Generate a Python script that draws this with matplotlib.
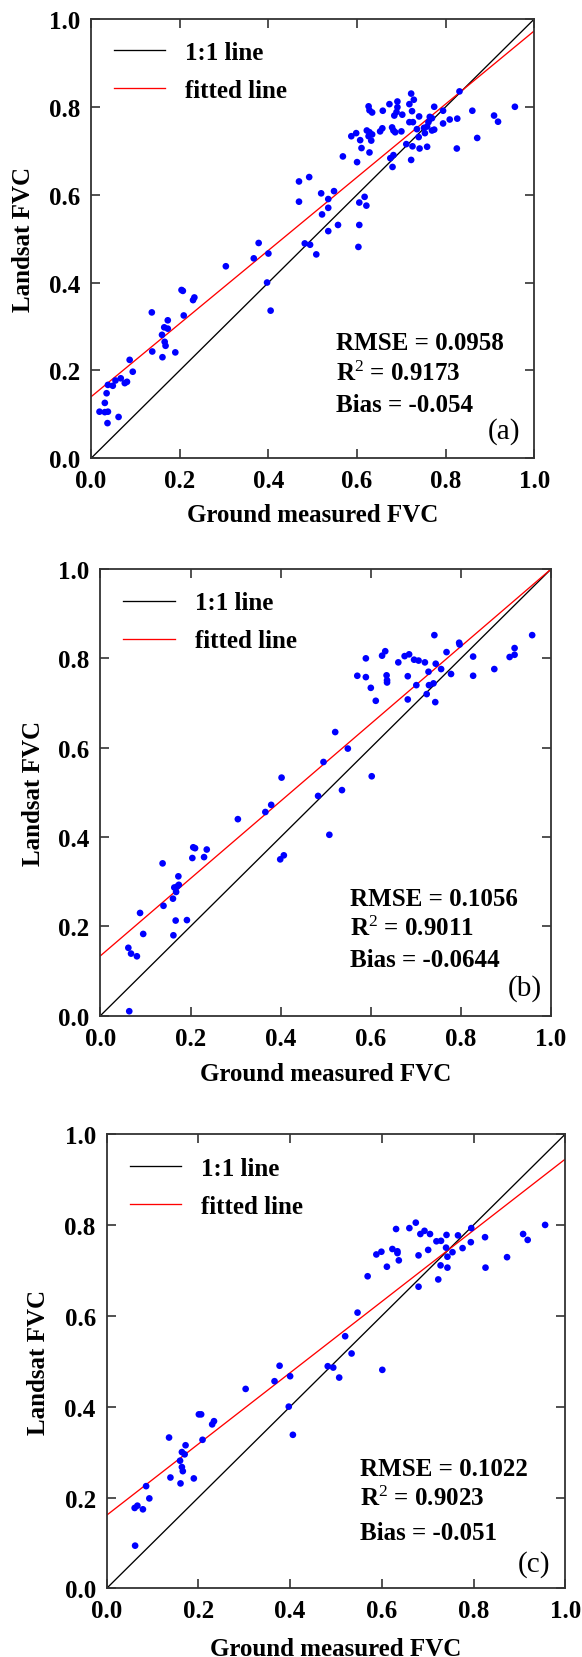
import matplotlib
matplotlib.use("Agg")
from matplotlib import pyplot as plt

plt.rcParams['font.family'] = ['Liberation Serif', 'DejaVu Serif']
plt.rcParams['mathtext.fontset'] = 'custom'
plt.rcParams['mathtext.rm'] = 'Liberation Serif'
plt.rcParams['mathtext.it'] = 'Liberation Serif:italic'
plt.rcParams['mathtext.bf'] = 'Liberation Serif:bold'

# panel (a)
xa = [0.469, 0.469, 0.492, 0.482, 0.494, 0.508, 0.519, 0.548, 0.535, 0.535,
      0.521, 0.535, 0.557, 0.568, 0.587, 0.598, 0.600, 0.607, 0.610, 0.626,
      0.628, 0.634, 0.622, 0.628, 0.628, 0.634, 0.626, 0.632, 0.605, 0.617,
      0.621, 0.605, 0.603, 0.652, 0.657, 0.658, 0.673, 0.679, 0.682, 0.686,
      0.684, 0.691, 0.691, 0.689, 0.702, 0.700, 0.675, 0.682, 0.680, 0.711,
      0.718, 0.722, 0.728, 0.724, 0.718, 0.726, 0.740, 0.735, 0.739, 0.725,
      0.741, 0.722, 0.753, 0.758, 0.761, 0.764, 0.769, 0.751, 0.774, 0.769,
      0.758, 0.774, 0.794, 0.794, 0.809, 0.826, 0.825, 0.831, 0.860, 0.871,
      0.909, 0.918, 0.956,
      0.204, 0.207, 0.230, 0.233, 0.304, 0.367, 0.378, 0.400, 0.397, 0.405,
      0.209, 0.137, 0.173, 0.165, 0.173, 0.160, 0.166, 0.168, 0.138, 0.161,
      0.190, 0.087, 0.094, 0.076, 0.081, 0.067, 0.055, 0.049, 0.038, 0.035,
      0.031, 0.019, 0.031, 0.038, 0.062, 0.037]
ya = [0.630, 0.584, 0.640, 0.489, 0.486, 0.464, 0.603, 0.608, 0.590, 0.570,
      0.555, 0.517, 0.531, 0.687, 0.733, 0.740, 0.674, 0.724, 0.706, 0.801,
      0.792, 0.787, 0.746, 0.696, 0.742, 0.737, 0.733, 0.723, 0.582, 0.595,
      0.575, 0.531, 0.481, 0.744, 0.751, 0.791, 0.806, 0.753, 0.746, 0.742,
      0.780, 0.812, 0.799, 0.788, 0.782, 0.744, 0.683, 0.690, 0.663, 0.715,
      0.806, 0.830, 0.816, 0.790, 0.765, 0.765, 0.778, 0.749, 0.731, 0.710,
      0.705, 0.679, 0.740, 0.709, 0.765, 0.777, 0.774, 0.752, 0.748, 0.746,
      0.755, 0.800, 0.791, 0.762, 0.771, 0.773, 0.705, 0.835, 0.791, 0.729,
      0.780, 0.766, 0.800,
      0.383, 0.381, 0.360, 0.366, 0.437, 0.455, 0.490, 0.466, 0.400, 0.336,
      0.325, 0.332, 0.314, 0.298, 0.295, 0.281, 0.265, 0.256, 0.243, 0.230,
      0.241, 0.224, 0.197, 0.171, 0.174, 0.182, 0.177, 0.165, 0.167, 0.148,
      0.126, 0.106, 0.105, 0.106, 0.094, 0.080]

# panel (b)
xb = [0.741, 0.958, 0.632, 0.625, 0.589, 0.675, 0.685, 0.696, 0.706, 0.720,
      0.661, 0.744, 0.768, 0.796, 0.797, 0.827, 0.756, 0.778, 0.827, 0.874,
      0.908, 0.919, 0.919, 0.570, 0.589, 0.635, 0.636, 0.636, 0.682, 0.600,
      0.701, 0.728, 0.729, 0.739, 0.724, 0.611, 0.682, 0.743, 0.521, 0.549,
      0.495, 0.402, 0.602, 0.483, 0.536,
      0.379, 0.366, 0.305, 0.508, 0.399, 0.407, 0.206, 0.210, 0.204, 0.230,
      0.236, 0.138, 0.173, 0.164, 0.170, 0.174, 0.168, 0.161, 0.140, 0.167,
      0.192, 0.162, 0.088, 0.095, 0.062, 0.068, 0.081, 0.064]
yb = [0.852, 0.852, 0.816, 0.806, 0.800, 0.805, 0.809, 0.797, 0.795, 0.791,
      0.791, 0.788, 0.814, 0.835, 0.831, 0.804, 0.776, 0.765, 0.761, 0.776,
      0.803, 0.823, 0.808, 0.761, 0.758, 0.762, 0.751, 0.746, 0.760, 0.734,
      0.740, 0.770, 0.740, 0.744, 0.720, 0.705, 0.708, 0.702, 0.635, 0.598,
      0.568, 0.533, 0.536, 0.492, 0.505,
      0.472, 0.456, 0.440, 0.405, 0.350, 0.359, 0.377, 0.375, 0.353, 0.355,
      0.372, 0.341, 0.312, 0.287, 0.289, 0.293, 0.277, 0.262, 0.246, 0.213,
      0.214, 0.180, 0.230, 0.183, 0.152, 0.139, 0.133, 0.010]

# panel (c)
xc = [0.674, 0.660, 0.631, 0.684, 0.693, 0.705, 0.741, 0.766, 0.795, 0.825,
      0.908, 0.918, 0.956, 0.719, 0.729, 0.740, 0.776, 0.794, 0.754, 0.743,
      0.873, 0.701, 0.680, 0.623, 0.634, 0.634, 0.637, 0.588, 0.599, 0.611,
      0.728, 0.743, 0.826, 0.723, 0.680, 0.569, 0.547, 0.520, 0.534, 0.482,
      0.494, 0.377, 0.400, 0.601, 0.507,
      0.366, 0.303, 0.397, 0.406, 0.201, 0.206, 0.230, 0.234, 0.209, 0.136,
      0.172, 0.164, 0.170, 0.160, 0.164, 0.166, 0.139, 0.161, 0.190, 0.086,
      0.093, 0.061, 0.067, 0.079, 0.062]
yc = [0.805, 0.793, 0.791, 0.780, 0.787, 0.780, 0.778, 0.777, 0.793, 0.773,
      0.780, 0.767, 0.800, 0.764, 0.765, 0.750, 0.749, 0.762, 0.740, 0.730,
      0.729, 0.745, 0.733, 0.747, 0.742, 0.738, 0.722, 0.735, 0.741, 0.708,
      0.711, 0.706, 0.706, 0.680, 0.664, 0.687, 0.607, 0.555, 0.517, 0.489,
      0.486, 0.490, 0.467, 0.481, 0.464,
      0.456, 0.439, 0.400, 0.338, 0.383, 0.383, 0.361, 0.368, 0.327, 0.332,
      0.315, 0.300, 0.295, 0.281, 0.267, 0.258, 0.244, 0.231, 0.242, 0.225,
      0.198, 0.177, 0.182, 0.174, 0.094]

# fitted lines (intercept, slope)
fit_a = (0.140, 0.833)
fit_b = (0.134, 0.866)
fit_c = (0.161, 0.784)

stats_a = ['RMSE = 0.0958', 'R$^{\\mathrm{2}}$ = 0.9173', 'Bias = -0.054']
stats_b = ['RMSE = 0.1056', 'R$^{\\mathrm{2}}$ = 0.9011', 'Bias = -0.0644']
stats_c = ['RMSE = 0.1022', 'R$^{\\mathrm{2}}$ = 0.9023', 'Bias = -0.051']

ticks = [0.0, 0.2, 0.4, 0.6, 0.8, 1.0]
tick_labels = ['0.0', '0.2', '0.4', '0.6', '0.8', '1.0']

FS = 18


def draw_panel(ax, x, y, fit, stats, tag, stats_y, tag_pos, ylab_x, xlab_y):
    line = [0.0, 1.0]
    ax.plot(line, line, color='black', lw=0.95, label='1:1 line', zorder=2)
    ax.plot(line, [fit[0] + fit[1] * v for v in line], color='red', lw=0.95,
            label='fitted line', zorder=2)
    ax.scatter(x, y, s=23, color='#0000ff', edgecolors='none', zorder=3)

    ax.set_xlim(0, 1)
    ax.set_ylim(0, 1)
    ax.set_xticks(ticks)
    ax.set_yticks(ticks)
    ax.set_xticklabels(tick_labels, fontsize=FS, fontweight='bold')
    ax.set_yticklabels(tick_labels, fontsize=FS, fontweight='bold')
    ax.tick_params(direction='in', length=6.5, width=1.1, pad=7.8,
                   top=True, right=True, color='#222222')
    for sp in ax.spines.values():
        sp.set_linewidth(1.3)
        sp.set_color('#333333')

    ax.set_xlabel('Ground measured FVC', fontsize=FS, fontweight='bold')
    ax.set_ylabel('Landsat FVC', fontsize=FS, fontweight='bold')
    ax.xaxis.set_label_coords(0.5, xlab_y)
    ax.yaxis.set_label_coords(ylab_x, 0.5)

    ax.legend(loc='upper left', bbox_to_anchor=(0.051, 0.950), frameon=False,
              prop={'weight': 'bold', 'size': FS}, borderpad=0,
              borderaxespad=0, handlelength=2.05, handletextpad=0.8,
              labelspacing=0.6)

    for s, yy in zip(stats, stats_y):
        ax.text(0.553, yy, s, transform=ax.transAxes, fontsize=FS,
                fontweight='bold', va='baseline', ha='left')
    ax.text(tag_pos[0], tag_pos[1], tag, transform=ax.transAxes,
            fontsize=21, ha='right', va='center')


fig = plt.figure(figsize=(5.82, 16.58), dpi=100)
ax1 = fig.add_axes([0.1565, 0.7230, 0.7617, 0.2650])
ax2 = fig.add_axes([0.1725, 0.3868, 0.7744, 0.2694])
ax3 = fig.add_axes([0.1833, 0.0414, 0.7880, 0.2740])

draw_panel(ax1, xa, ya, fit_a, stats_a, '(a)', [0.248, 0.179, 0.108],
           (0.967, 0.063), -0.126, -0.102)
draw_panel(ax2, xb, yb, fit_b, stats_b, '(b)', [0.247, 0.180, 0.112],
           (0.979, 0.063), -0.124, -0.104)
draw_panel(ax3, xc, yc, fit_c, stats_c, '(c)', [0.249, 0.183, 0.109],
           (0.968, 0.054), -0.123, -0.106)

fig.savefig('out.png', dpi=100)
